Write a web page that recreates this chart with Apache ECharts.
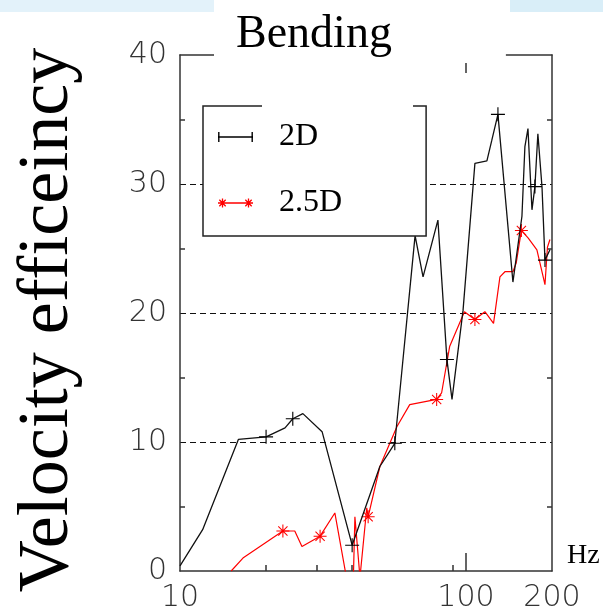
<!DOCTYPE html>
<html>
<head>
<meta charset="utf-8">
<script src="https://cdn.jsdelivr.net/npm/echarts@6/dist/echarts.min.js"></script>
<style>
  html, body { margin: 0; padding: 0; background: #fff; }
  #chart { width: 603px; height: 613px; }
</style>
</head>
<body>
<div id="chart"></div>
<script>
// values (Hz, efficiency)
const freq2D = [10, 12, 16, 20, 23.3, 24.8, 26.9, 31.4, 40, 50, 56.4, 66.4, 70.8, 79.8, 85.8, 89.4, 97.7, 107.5, 118.4, 123.2, 129.4, 146, 157, 160.8, 164.8, 170.2, 174.3, 178.5, 184.5, 189, 196.7]
const eff2D = [0.4, 3.2, 10.2, 10.4, 11.1, 11.8, 12.2, 10.8, 2.0, 8.1, 9.9, 26, 22.8, 27.2, 16.4, 13.3, 20.2, 31.6, 31.8, 33.4, 35.4, 22.4, 27.5, 32.9, 34.3, 28, 29.8, 33.9, 29.8, 24.1, 24.9]
const marks2D = [20, 24.8, 40, 56.4, 85.8, 129.4, 174.3, 189]

const freq25D = [15.1, 16.6, 22.9, 25.2, 26.7, 30.9, 34.8, 38.2, 40.4, 40.9, 42.6, 45.0, 45.5, 50, 57.4, 63.6, 79.0, 82.2, 87.7, 98.8, 107.5, 116.5, 124.9, 131.5, 136.9, 146, 150, 156.3, 165.2, 177.1, 189, 192.8, 196.7]
const eff25D = [0, 1.0, 3.1, 3.1, 1.9, 2.7, 4.5, -0.5, -0.5, 4.2, -0.5, 4.9, 4.2, 8.1, 11.2, 12.9, 13.3, 13.8, 17.4, 20.1, 19.5, 20.1, 19.2, 22.8, 23.2, 23.2, 23.9, 26.4, 25.8, 24.9, 22.2, 25.1, 25.7]
const marks25D = [22.9, 30.9, 45.5, 79.0, 107.5, 156.3]

const xLabels = [10, 100, 200]
const xMinorTicks = [20, 30, 40, 90]
const topTicks = [100]

const serif = '"Liberation Serif", "Times New Roman", serif'
const tickFont = '"DejaVu Sans", sans-serif'
const frame = { color: '#333', width: 1.5 }

// thin bars through a centre point, used for + and * glyphs
function bars (cx, cy, r, t, angles) {
  return angles.map((deg) => {
    const a = deg * Math.PI / 180
    const dx = Math.cos(a) * r, dy = Math.sin(a) * r
    const nx = -Math.sin(a) * t / 2, ny = Math.cos(a) * t / 2
    const p = [
      [cx - dx + nx, cy - dy + ny], [cx + dx + nx, cy + dy + ny],
      [cx + dx - nx, cy + dy - ny], [cx - dx - nx, cy - dy - ny],
    ]
    return 'M' + p.map(q => q[0].toFixed(2) + ',' + q[1].toFixed(2)).join('L') + 'Z'
  }).join('')
}

const plusIcon = 'path://' + bars(10, 10, 10, 1.6, [0, 90])
const starIcon = 'path://' + bars(10, 10, 10, 1.6, [0, 45, 90, 135])
const legend2D = 'path://' + bars(17.5, 5, 17.5, 1.4, [0]) + bars(0.8, 5, 5, 1.4, [90]) + bars(34.2, 5, 5, 1.4, [90])
const legend25D = 'path://' + bars(17.5, 5, 17.5, 1.4, [0]) + bars(4.5, 5, 4.5, 1.3, [0, 45, 90, 135]) + bars(30.5, 5, 4.5, 1.3, [0, 45, 90, 135])

const chart = echarts.init(document.getElementById('chart'))

chart.setOption({
  animation: false,
  backgroundColor: '#fff',
  title: {
    text: 'Bending',
    left: 214,
    top: 0,
    backgroundColor: '#fff',
    padding: [13, 114, 5, 22],
    textStyle: { fontFamily: serif, fontSize: 46, fontWeight: 'normal', color: '#000', lineHeight: 44 },
  },
  graphic: [
    { type: 'rect', left: 0, top: 0, shape: { width: 214, height: 12 }, style: { fill: '#e3f2fa' }, z: -1 },
    { type: 'rect', right: 0, top: 0, shape: { width: 93, height: 12 }, style: { fill: '#d9eef8' }, z: -1 },
    { type: 'rect', left: 262, top: 104, shape: { width: 151, height: 4 }, style: { fill: '#fff' }, z: 100 },
  ],
  legend: {
    orient: 'vertical',
    left: 203,
    top: 106,
    padding: [15, 84, 17, 15],
    itemGap: 34,
    itemWidth: 35,
    itemHeight: 10,
    backgroundColor: '#fff',
    borderColor: '#222',
    borderWidth: 1.5,
    borderRadius: 0,
    textStyle: { fontFamily: serif, fontSize: 32, color: '#000', lineHeight: 32, padding: [0, 0, 0, 21] },
    data: [
      { name: '2D', icon: legend2D },
      { name: '2.5D', icon: legend25D },
    ],
  },
  grid: { left: 180, top: 55, right: 51, bottom: 42 },
  xAxis: [
    {
      type: 'log', min: 10, max: 200, position: 'bottom',
      axisLine: { lineStyle: frame },
      axisTick: { inside: true, length: 18, customValues: [100], lineStyle: frame },
      minorTick: { show: false },
      splitLine: { show: false },
      axisLabel: { customValues: xLabels, fontFamily: tickFont, fontSize: 30, fontWeight: 200, color: '#333', margin: 12 },
      name: 'Hz',
      nameLocation: 'end',
      nameGap: 15,
      nameTextStyle: { fontFamily: serif, fontSize: 28, color: '#000', verticalAlign: 'bottom', lineHeight: 28, padding: [0, 0, 1, 0] },
    },
    {
      type: 'log', min: 10, max: 200, position: 'bottom',
      axisLine: { show: false },
      axisTick: { inside: true, length: 6, customValues: xMinorTicks, lineStyle: frame },
      axisLabel: { show: false },
      splitLine: { show: false },
    },
    {
      type: 'log', min: 10, max: 200, position: 'top',
      axisLine: { show: true, lineStyle: frame },
      axisTick: { inside: true, length: 18, customValues: topTicks, lineStyle: frame },
      axisLabel: { show: false },
      splitLine: { show: false },
    },
  ],
  yAxis: [
    {
      type: 'value', min: 0, max: 40, interval: 10, position: 'left',
      axisLine: { show: true, lineStyle: frame },
      axisTick: { show: false, inside: true },
      minorTick: { show: true, splitNumber: 2, length: 5, lineStyle: frame },
      splitLine: { show: true, showMinLine: false, showMaxLine: false, lineStyle: { color: '#111', width: 1.2, type: [6, 4] } },
      axisLabel: { fontFamily: tickFont, fontSize: 30, fontWeight: 200, color: '#333', margin: 13 },
      name: 'Velocity efficeincy',
      nameLocation: 'middle',
      nameGap: 96,
      nameTextStyle: { fontFamily: serif, fontSize: 72, color: '#000', padding: [0, 14, 0, 0] },
    },
    {
      type: 'value', min: 0, max: 40, interval: 10, position: 'right',
      axisLine: { show: true, lineStyle: frame },
      axisTick: { show: false, inside: true },
      minorTick: { show: true, splitNumber: 2, length: 5, lineStyle: frame },
      splitLine: { show: false },
      axisLabel: { show: false },
    },
  ],
  series: [
    {
      name: '2D',
      type: 'line',
      xAxisIndex: 0,
      yAxisIndex: 0,
      data: freq2D.map((f, i) => [f, eff2D[i]]),
      symbol: (v) => marks2D.includes(v[0]) ? plusIcon : 'none',
      symbolSize: 14,
      showAllSymbol: true,
      color: '#000',
      lineStyle: { color: '#111', width: 1.3 },
      itemStyle: { color: '#000', borderWidth: 0 },
      emphasis: { disabled: true },
      z: 3,
    },
    {
      name: '2.5D',
      type: 'line',
      xAxisIndex: 0,
      yAxisIndex: 0,
      data: freq25D.map((f, i) => [f, eff25D[i]]),
      symbol: (v) => marks25D.includes(v[0]) ? starIcon : 'none',
      symbolSize: 13,
      showAllSymbol: true,
      color: '#f00',
      lineStyle: { color: '#f00', width: 1.2 },
      itemStyle: { color: '#f00', borderWidth: 0 },
      emphasis: { disabled: true },
      z: 2,
    },
  ],
})
</script>
</body>
</html>
